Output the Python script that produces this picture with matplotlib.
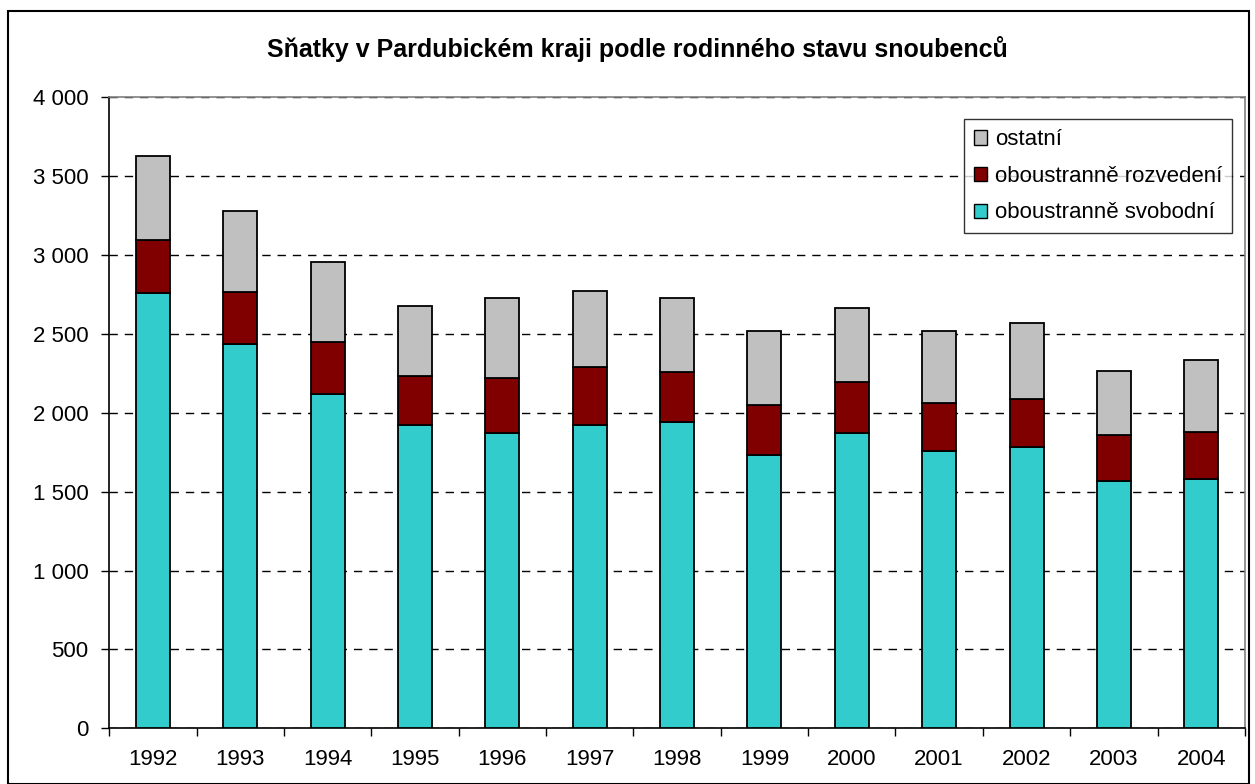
import matplotlib.pyplot as plt
import numpy as np
from matplotlib.ticker import FuncFormatter

plt.rcParams['font.family'] = ['Liberation Sans', 'DejaVu Sans']

years = ['1992', '1993', '1994', '1995', '1996', '1997', '1998',
         '1999', '2000', '2001', '2002', '2003', '2004']
# totals
celkem = [3626, 3277, 2954, 2675, 2726, 2770, 2726, 2517, 2662, 2517, 2567, 2263, 2333]
svobodni = [2758, 2434, 2117, 1921, 1870, 1921, 1940, 1731, 1870, 1756, 1781, 1566, 1578]
rozvedeni_top = [3093, 2764, 2447, 2231, 2219, 2288, 2257, 2048, 2193, 2060, 2086, 1857, 1876]

svobodni = np.array(svobodni)
rozvedeni = np.array(rozvedeni_top) - svobodni
ostatni = np.array(celkem) - np.array(rozvedeni_top)

fig = plt.figure(figsize=(12.55, 7.84), dpi=100)
ax = fig.add_axes([0.087, 0.071, 0.905, 0.805])

x = np.arange(len(years))
w = 0.39
kw = dict(width=w, edgecolor='black', linewidth=1.3, zorder=3)
b1 = ax.bar(x, svobodni, color='#33CCCC', label='oboustranně svobodní', **kw)
b2 = ax.bar(x, rozvedeni, bottom=svobodni, color='#800000',
            label='oboustranně rozvedení', **kw)
b3 = ax.bar(x, ostatni, bottom=svobodni + rozvedeni, color='#C0C0C0',
            label='ostatní', **kw)

ax.set_xlim(-0.5, len(years) - 0.5)
ax.set_ylim(0, 4000)
ax.set_yticks(np.arange(0, 4001, 500))
ax.yaxis.set_major_formatter(FuncFormatter(lambda v, p: '{:,.0f}'.format(v).replace(',', ' ')))
ax.set_xticks(x)
ax.set_xticklabels(years)
ax.set_xticks(np.arange(-0.5, len(years), 1), minor=True)
ax.tick_params(axis='x', which='major', length=0, pad=15, labelsize=16)
ax.tick_params(axis='x', which='minor', length=6, width=1, color='black')
ax.tick_params(axis='y', length=6, width=1, labelsize=16, pad=9)
ax.yaxis.grid(True, linestyle=(0, (6, 5)), color='black', linewidth=1, zorder=0)

for s in ['top', 'right']:
    ax.spines[s].set_color('#808080')
    ax.spines[s].set_linewidth(1.2)
ax.spines['left'].set_linewidth(1.2)
ax.spines['bottom'].set_linewidth(1.2)

# title is centred on the whole chart, not on the plot area
fig.text(0.508, 0.927, 'Sňatky v Pardubickém kraji podle rodinného stavu snoubenců',
         fontsize=18, fontweight='bold', ha='center', va='baseline')

leg = ax.legend(handles=[b3, b2, b1], loc='upper right',
                bbox_to_anchor=(0.9885, 0.965), fontsize=16, frameon=True,
                fancybox=False, edgecolor='black', handlelength=0.6,
                handleheight=0.6, handletextpad=0.35, labelspacing=0.7,
                borderpad=0.45, borderaxespad=0)
leg.get_frame().set_linewidth(1)
for h in leg.legend_handles:
    h.set_linewidth(1)

# outer frame like the original
fig.patches.append(plt.Rectangle((0.006, 0.0), 0.989, 0.986, transform=fig.transFigure,
                                 fill=False, edgecolor='black', linewidth=1.5))

fig.savefig('out.png', dpi=100)
